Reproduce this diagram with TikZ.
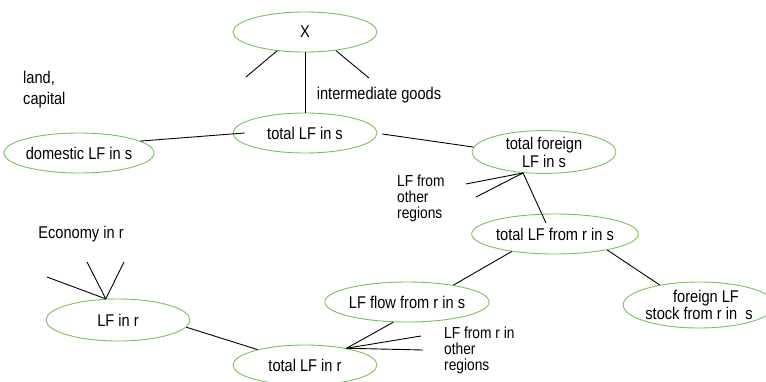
\documentclass[tikz,border=0pt]{standalone}
\usepackage{fontspec}
\setmainfont[FakeStretch=0.86]{Liberation Sans}
\usetikzlibrary{shapes.geometric}
\definecolor{ellgreen}{RGB}{122,192,92}
\begin{document}
\begin{tikzpicture}[x=1pt,y=-1pt,
  every node/.style={font=\fontsize{17}{15}\selectfont, inner sep=0pt},
  oval/.style={ellipse, draw=ellgreen, line width=0.9pt, minimum width=144pt, minimum height=40pt, align=center},
  conn/.style={draw=black, line width=0.9pt},
  lbl/.style={align=left, anchor=west}]
\useasboundingbox (0,0) rectangle (766,381);

% ellipses
\node[oval] (X) at (305,32) {X};
\node[oval] (totals) at (305,133) {total LF in s};
\node[oval] (domestic) at (79,153) {domestic LF in s};
\node[oval, minimum height=42pt] (foreign) at (544,152) {total foreign\\[1pt]LF in s};
\node[oval] (rins) at (555,234) {total LF from r in s};
\node[oval] (flow) at (407,302) {LF flow from r in s};
\node[oval, minimum width=134pt, minimum height=46pt] (stock) at (699,305) {\hspace*{14pt}foreign LF\\stock from r in~~s};
\node[oval, minimum height=42pt] (lfr) at (118,320) {LF in r};
\node[oval] (totr) at (305,365) {total LF in r};

% free texts
\node[lbl, font=\fontsize{17}{21}\selectfont] (landcap) at (23,90) {land,\\capital};
\node (inter) at (379,95) {intermediate goods};
\node[lbl, font=\fontsize{16}{16}\selectfont] (lfother) at (397,198) {LF from\\other\\regions};
\node (econ) at (81,234) {Economy in r};
\node[lbl, font=\fontsize{16}{16}\selectfont] (lfrother) at (444,350) {LF from r in\\other\\regions};

% free ends
\coordinate (xl) at (246,77);
\coordinate (xr) at (369,78);
\coordinate (fa) at (466,184);
\coordinate (fb) at (476,197);
\coordinate (ra) at (47,277);
\coordinate (rb) at (87,262);
\coordinate (rc) at (124,262);
\coordinate (ta) at (421,336);
\coordinate (tb) at (423,350);

% connectors
\draw[conn] (X.south) -- (totals.north);
\draw[conn] (X.214) -- (xl);
\draw[conn] (X.-31) -- (xr);
\draw[conn] (domestic.11) -- ([xshift=12pt]totals.west);
\draw[conn] ([xshift=5pt,yshift=-1pt]totals.east) -- (foreign.176);
\coordinate (fhub) at (foreign.-135);
\draw[conn] (fhub) -- (fa);
\draw[conn] (fhub) -- (fb);
\draw[conn] (fhub) -- ([shift={(-9,-11)}]rins.center);
\draw[conn] (rins.-158) -- (flow.20);
\draw[conn] (rins.-17) -- (stock.153);
\coordinate (lhub) at (lfr.120);
\draw[conn] (lhub) -- (ra);
\draw[conn] (lhub) -- (rb);
\draw[conn] (lhub) -- (rc);
\draw[conn] (lfr.-6) -- (totr.162);
\coordinate (thub) at (totr.22);
\draw[conn] (thub) -- (flow.-124);
\draw[conn] (thub) -- (ta);
\draw[conn] (thub) -- (tb);
\end{tikzpicture}
\end{document}
